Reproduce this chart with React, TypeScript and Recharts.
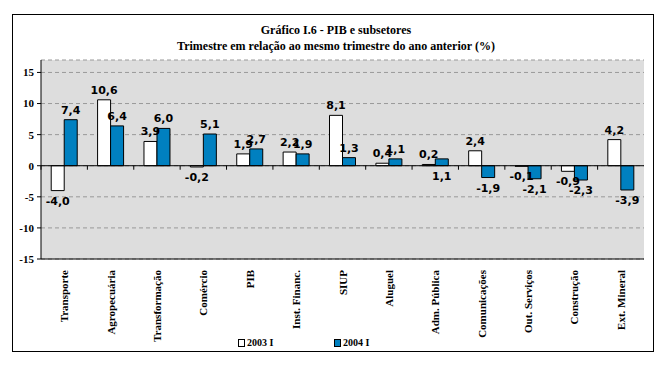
import React from "react";
import {
  BarChart,
  Bar,
  XAxis,
  YAxis,
  CartesianGrid,
  ReferenceLine,
  LabelList,
} from "recharts";

const categories = [
  "Transporte",
  "Agropecuária",
  "Transformação",
  "Comércio",
  "PIB",
  "Inst. Financ.",
  "SIUP",
  "Aluguel",
  "Adm. Pública",
  "Comunicações",
  "Out. Serviços",
  "Construção",
  "Ext. Mineral",
];
const series2003 = [-4.0, 10.6, 3.9, -0.2, 1.9, 2.2, 8.1, 0.4, 0.2, 2.4, -0.1, -0.9, 4.2];
const series2004 = [7.4, 6.4, 6.0, 5.1, 2.7, 1.9, 1.3, 1.1, 1.1, -1.9, -2.1, -2.3, -3.9];
const seriesNames = ["2003 I", "2004 I"];
const yTicks = [-15, -10, -5, 0, 5, 10, 15];

const data = categories.map((name, i) => ({
  name,
  a: series2003[i],
  b: series2004[i],
}));

const BLUE = "#0080C0";
const SERIF = "'Liberation Serif', 'Times New Roman', serif";
const SANS = "'DejaVu Sans', Verdana, sans-serif";

// Excel put this one label under the axis
const labelBelow = new Set(["b-8"]);

const fmt = (v: number) => v.toFixed(1).replace(".", ",");

const makeLabel = (key: string) => (props: any) => {
  const { x, y, width, height, value, index } = props;
  const top = Math.min(y, y + height);
  const bottom = Math.max(y, y + height);
  const below = value < 0 || labelBelow.has(`${key}-${index}`);
  const ty = below ? bottom + 14 : top - 6;
  return (
    <text
      x={x + width / 2}
      y={ty}
      textAnchor="middle"
      fontFamily={SANS}
      fontWeight="bold"
      fontSize={11}
      fill="#000"
    >
      {fmt(value)}
    </text>
  );
};

const CatTick = (props: any) => {
  const { x, y, payload } = props;
  return (
    <text
      transform={`translate(${x + 4},${y + 3}) rotate(-90)`}
      textAnchor="end"
      fontFamily={SERIF}
      fontWeight="bold"
      fontSize={11}
      fill="#000"
    >
      {payload.value}
    </text>
  );
};

const ZeroLine = (props: any) => {
  const { x1, y1, x2, y2 } = props;
  const step = (x2 - x1) / categories.length;
  return (
    <g>
      <line x1={x1} y1={y1} x2={x2} y2={y2} stroke="#000" strokeWidth={1} />
      {categories.map((_, i) => (
        <line
          key={i}
          x1={x1 + step * i}
          x2={x1 + step * i}
          y1={y1}
          y2={y1 + 4}
          stroke="#000"
        />
      ))}
    </g>
  );
};

export default function App() {
  return (
    <div
      style={{
        position: "absolute",
        left: 0,
        top: 0,
        width: 668,
        height: 370,
        background: "#fff",
      }}
    >
      <div
        style={{
          position: "absolute",
          left: 12,
          top: 14,
          width: 640,
          height: 336,
          border: "1px solid #000",
        }}
      />
      <div
        style={{
          position: "absolute",
          left: 0,
          width: 668,
          top: 22,
          textAlign: "center",
          fontFamily: SERIF,
          fontWeight: "bold",
          fontSize: 12,
          lineHeight: "16px",
        }}
      >
        <div style={{ paddingLeft: 4 }}>Gráfico I.6 - PIB e subsetores</div>
        <div style={{ paddingLeft: 4 }}>
          Trimestre em relação ao mesmo trimestre do ano anterior (%)
        </div>
      </div>
      <div style={{ position: "absolute", left: 0, top: 0 }}>
        <BarChart
          width={668}
          height={370}
          data={data}
          margin={{ top: 60, right: 24, bottom: 34, left: 0 }}
          barCategoryGap="22%"
          barGap={0}
        >
          <CartesianGrid
            vertical={false}
            horizontal
            fill="#DDDDDD"
            stroke="#999"
            strokeDasharray="4 3"
          />
          <XAxis
            dataKey="name"
            interval={0}
            height={77}
            tick={<CatTick />}
            tickLine={false}
            axisLine={{ stroke: "#000" }}
          />
          <XAxis
            xAxisId="top"
            dataKey="name"
            orientation="top"
            height={0}
            tick={false}
            tickLine={false}
            axisLine={{ stroke: "#000" }}
          />
          <YAxis
            width={41}
            domain={[-15, 17]}
            ticks={yTicks}
            interval={0}
            tickSize={4}
            tickMargin={3}
            tick={{
              fontFamily: SERIF,
              fontWeight: "bold",
              fontSize: 11,
              fill: "#000",
            }}
            tickLine={{ stroke: "#000" }}
            axisLine={{ stroke: "#000" }}
          />
          <YAxis
            yAxisId="right"
            orientation="right"
            width={0}
            tick={false}
            tickLine={false}
            axisLine={{ stroke: "#000" }}
          />
          <Bar
            dataKey="a"
            name={seriesNames[0]}
            fill="#fff"
            stroke="#000"
            strokeWidth={1}
            isAnimationActive={false}
          >
            <LabelList dataKey="a" content={makeLabel("a")} />
          </Bar>
          <Bar
            dataKey="b"
            name={seriesNames[1]}
            fill={BLUE}
            stroke="#000"
            strokeWidth={1}
            isAnimationActive={false}
          >
            <LabelList dataKey="b" content={makeLabel("b")} />
          </Bar>
          <ReferenceLine y={0} shape={<ZeroLine />} />
        </BarChart>
      </div>
      {seriesNames.map((s, i) => (
        <div
          key={s}
          style={{
            position: "absolute",
            left: 238 + i * 96,
            top: 336,
            display: "flex",
            alignItems: "center",
            fontFamily: SERIF,
            fontWeight: "bold",
            fontSize: 10,
            lineHeight: "14px",
          }}
        >
          <span
            style={{
              display: "inline-block",
              width: 5,
              height: 6,
              border: "1px solid #000",
              background: i === 0 ? "#fff" : BLUE,
              marginRight: 2,
            }}
          />
          {s}
        </div>
      ))}
    </div>
  );
}
